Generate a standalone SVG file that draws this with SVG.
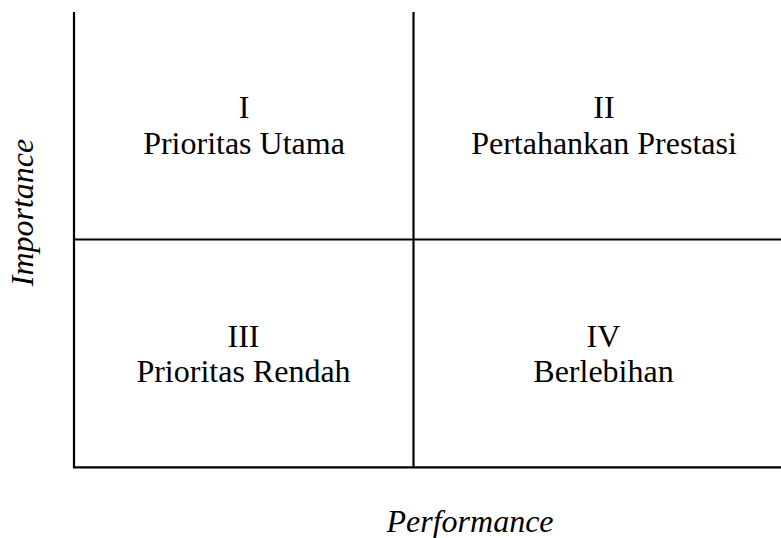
<svg xmlns="http://www.w3.org/2000/svg" width="781" height="538" viewBox="0 0 781 538">
<style>
.ln{stroke:#000;stroke-width:2.2;fill:none}
.t{font-family:"Liberation Serif","Times New Roman",serif;font-size:32px;fill:#000;text-anchor:middle}
.ax{font-family:"Liberation Serif","Times New Roman",serif;font-size:32px;font-style:italic;fill:#000;text-anchor:middle}
</style>
<rect width="781" height="538" fill="#fff"/>
<g id="connectors">
<line class="ln" x1="74" y1="12" x2="74" y2="468"/>
<line class="ln" x1="413.5" y1="12" x2="413.5" y2="467"/>
<line class="ln" x1="73" y1="239.5" x2="781" y2="239.5"/>
<line class="ln" x1="73" y1="467.3" x2="781" y2="467.3"/>
</g>
<g id="q1"><text class="t" x="244" y="118">I</text><text class="t" x="244" y="154">Prioritas Utama</text></g>
<g id="q2"><text class="t" x="604" y="118">II</text><text class="t" x="604" y="154">Pertahankan Prestasi</text></g>
<g id="q3"><text class="t" x="243.5" y="347">III</text><text class="t" x="243.5" y="382">Prioritas Rendah</text></g>
<g id="q4"><text class="t" x="603.5" y="347">IV</text><text class="t" x="603.5" y="382">Berlebihan</text></g>
<g id="axis-x"><text class="ax" x="470" y="532">Performance</text></g>
<g id="axis-y"><text class="ax" transform="translate(33,212.5) rotate(-90)" x="0" y="0">Importance</text></g>
</svg>
